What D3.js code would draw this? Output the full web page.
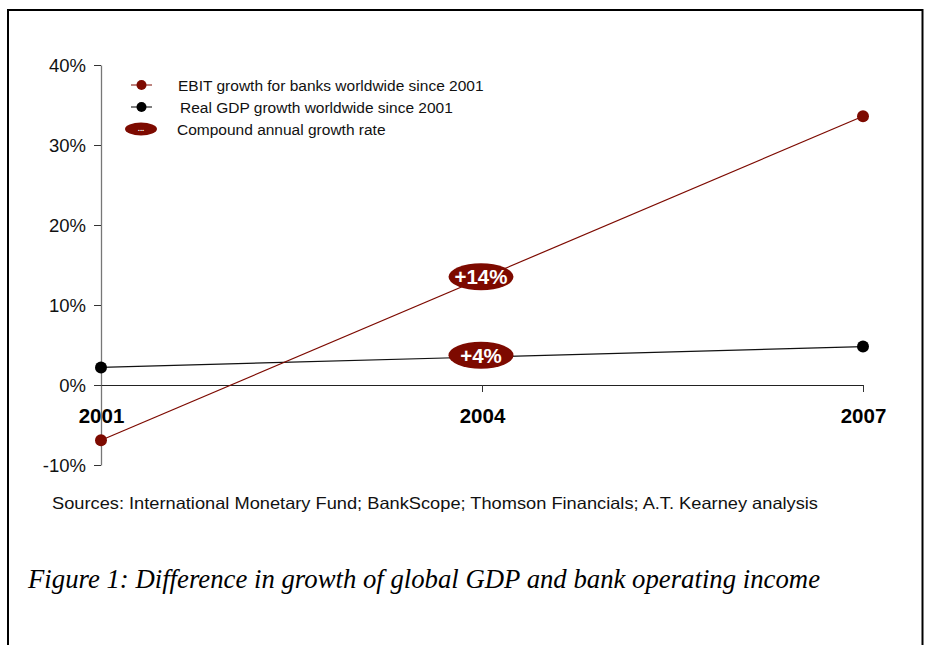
<!DOCTYPE html>
<html>
<head>
<meta charset="utf-8">
<script src="https://cdn.jsdelivr.net/npm/d3@7"></script>
<style>
body { margin: 0; background: #fff; }
text { font-family: "Liberation Sans", Arial, sans-serif; }
</style>
</head>
<body>
<script>
var years = [2001, 2004, 2007];
var yTicks = [-10, 0, 10, 20, 30, 40];
var ebit = [{year: 2001, value: -6.9}, {year: 2007, value: 33.6}];
var gdp = [{year: 2001, value: 2.2}, {year: 2007, value: 4.8}];
var cagr = [{label: "+14%", value: 13.4}, {label: "+4%", value: 3.6}];
var cagrYear = 2004;
var legendItems = ["EBIT growth for banks worldwide since 2001", "Real GDP growth worldwide since 2001", "Compound annual growth rate"];
var red = "#7d0a00";

function draw_chart() {
    var svg = d3.select("body").append("svg").attr("width", 928).attr("height", 645);

    // frame (open at bottom)
    svg.append("path")
        .attr("d", "M8,645 V10 H922.5 V645")
        .attr("fill", "none").attr("stroke", "#000").attr("stroke-width", 2);

    var x = d3.scaleLinear().domain([2001, 2007]).range([101, 863]);
    var y = d3.scaleLinear().domain([-10, 40]).range([465, 65]);

    // y axis
    var yAxis = svg.append("g")
        .attr("transform", "translate(" + x(2001) + ",0)")
        .call(d3.axisLeft(y).tickValues(yTicks).tickSize(7).tickSizeOuter(0)
            .tickFormat(function (d) { return d + "%"; }));
    yAxis.select(".domain").attr("stroke", "#777").attr("stroke-width", 1.3);
    yAxis.selectAll(".tick line").attr("stroke", "#333");
    yAxis.selectAll(".tick text")
        .attr("x", -15).attr("dy", "0.36em")
        .style("font-size", "18.5px").attr("fill", "#111")
        .style("font-family", "Liberation Sans, Arial, sans-serif");

    // x axis
    var xAxis = svg.append("g")
        .attr("transform", "translate(0," + y(0) + ")")
        .call(d3.axisBottom(x).tickValues(years).tickSize(7).tickSizeOuter(0)
            .tickFormat(d3.format("d")));
    xAxis.select(".domain").attr("stroke", "#222").attr("stroke-width", 1);
    xAxis.selectAll(".tick line").attr("stroke", "#333")
        .attr("stroke-opacity", function (d) { return d === 2001 ? 0 : 1; });
    xAxis.selectAll(".tick text")
        .attr("y", 31).attr("dy", "0.36em")
        .style("font-size", "20.5px").style("font-weight", "bold").attr("fill", "#000")
        .style("font-family", "Liberation Sans, Arial, sans-serif");

    var line = d3.line()
        .x(function (d) { return x(d.year); })
        .y(function (d) { return y(d.value); });

    svg.append("path").datum(gdp)
        .attr("d", line).attr("fill", "none").attr("stroke", "#111").attr("stroke-width", 1.2);
    svg.append("path").datum(ebit)
        .attr("d", line).attr("fill", "none").attr("stroke", red).attr("stroke-width", 1.2);

    svg.selectAll(".gdp-dot").data(gdp).enter().append("circle")
        .attr("class", "gdp-dot")
        .attr("cx", function (d) { return x(d.year); })
        .attr("cy", function (d) { return y(d.value); })
        .attr("r", 6).attr("fill", "#000");
    svg.selectAll(".ebit-dot").data(ebit).enter().append("circle")
        .attr("class", "ebit-dot")
        .attr("cx", function (d) { return x(d.year); })
        .attr("cy", function (d) { return y(d.value); })
        .attr("r", 6).attr("fill", red);

    // CAGR bubbles
    var bubbles = svg.selectAll(".cagr").data(cagr).enter().append("g")
        .attr("class", "cagr")
        .attr("transform", function (d) { return "translate(" + (x(cagrYear) - 1) + "," + (y(d.value) - 1) + ")"; });
    bubbles.append("ellipse").attr("rx", 32.5).attr("ry", 13.5).attr("fill", red);
    bubbles.append("text")
        .attr("text-anchor", "middle").attr("dy", "0.37em")
        .style("font-size", "20.5px").style("font-weight", "bold").attr("fill", "#fff")
        .text(function (d) { return d.label; });

    // legend
    var legend = svg.append("g");
    var ly = [85, 107, 129];
    legend.append("line").attr("x1", 131).attr("x2", 152).attr("y1", ly[0]).attr("y2", ly[0]).attr("stroke", red);
    legend.append("circle").attr("cx", 141.5).attr("cy", ly[0]).attr("r", 5).attr("fill", red);
    legend.append("line").attr("x1", 131).attr("x2", 152).attr("y1", ly[1]).attr("y2", ly[1]).attr("stroke", "#000");
    legend.append("circle").attr("cx", 141.5).attr("cy", ly[1]).attr("r", 5).attr("fill", "#000");
    legend.append("ellipse").attr("cx", 141).attr("cy", ly[2]).attr("rx", 16).attr("ry", 6.5).attr("fill", red);
    legend.append("text").attr("x", 141).attr("y", ly[2] + 2).attr("text-anchor", "middle")
        .style("font-size", "8px").style("font-weight", "bold").attr("fill", "#fff").text("...");
    var lx = [178, 180, 177];
    legend.selectAll(".ltext").data(legendItems).enter().append("text")
        .attr("class", "ltext")
        .attr("x", function (d, i) { return lx[i]; })
        .attr("y", function (d, i) { return ly[i]; })
        .attr("dy", "0.36em")
        .style("font-size", "15.5px").attr("fill", "#111")
        .text(function (d) { return d; });

    // source
    svg.append("text")
        .attr("x", 52).attr("y", 509)
        .attr("textLength", 766).attr("lengthAdjust", "spacingAndGlyphs")
        .style("font-size", "16.5px").attr("fill", "#111")
        .text("Sources: International Monetary Fund; BankScope; Thomson Financials; A.T. Kearney analysis");

    // caption
    svg.append("text")
        .attr("x", 28).attr("y", 588)
        .attr("textLength", 792).attr("lengthAdjust", "spacingAndGlyphs")
        .style("font-family", "Liberation Serif, 'Times New Roman', serif")
        .style("font-style", "italic").style("font-size", "27px").attr("fill", "#000")
        .text("Figure 1: Difference in growth of global GDP and bank operating income");
}

draw_chart();
</script>
</body>
</html>
